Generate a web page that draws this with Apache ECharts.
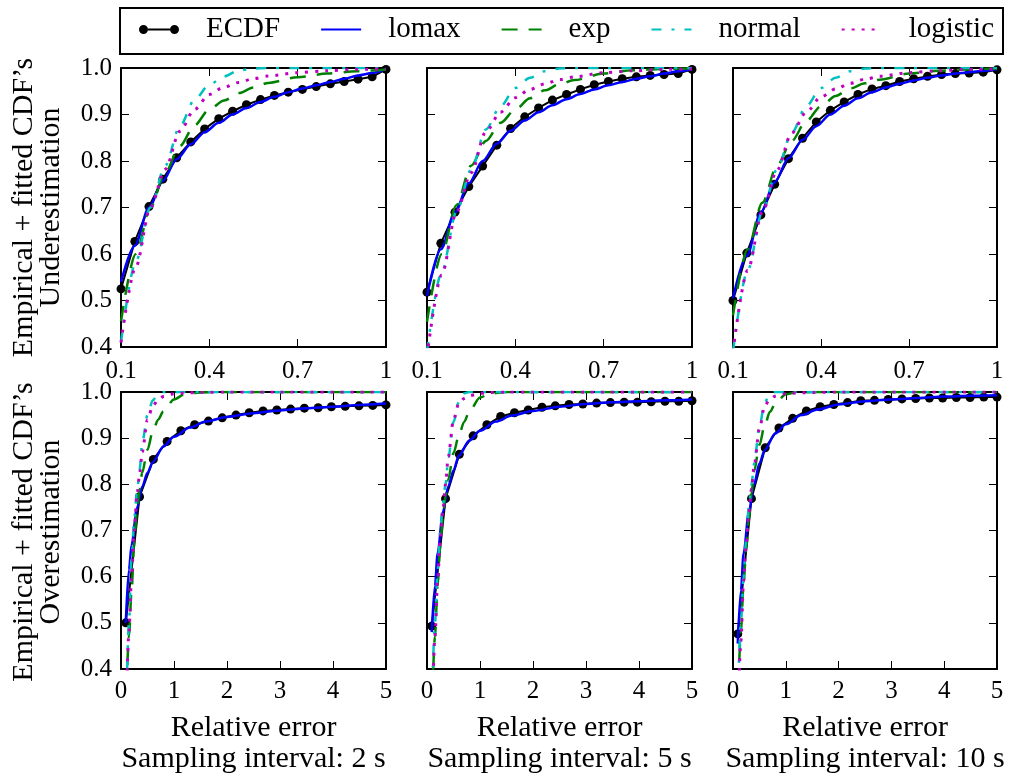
<!DOCTYPE html>
<html>
<head>
<meta charset="utf-8">
<script src="https://cdn.jsdelivr.net/npm/echarts@6/dist/echarts.min.js"></script>
<style>
html,body{margin:0;padding:0;background:#fff;}
#chart{width:1013px;height:776px;}
</style>
</head>
<body>
<div id="chart"></div>
<script>
// ---------- data ----------
const intervals = ['2 s', '5 s', '10 s'];
const seriesNames = ['ECDF', 'lomax', 'exp', 'normal', 'logistic'];
const yTicks = [0.4, 0.5, 0.6, 0.7, 0.8, 0.9, 1.0];
const underTicks = [0.1, 0.4, 0.7, 1.0];
const overTicks = [0, 1, 2, 3, 4, 5];

// Underestimation (top row)
const underX = [0.1, 0.147, 0.195, 0.242, 0.289, 0.337, 0.384, 0.432, 0.479, 0.526, 0.574, 0.621, 0.668, 0.716, 0.763, 0.811, 0.858, 0.905, 0.953, 1.0];
const underFitX = [0.1, 0.15, 0.2, 0.25, 0.3, 0.35, 0.4, 0.45, 0.5, 0.55, 0.6, 0.7, 0.8, 0.9, 1.0];

const ecdfUnder2  = [0.525, 0.627, 0.702, 0.761, 0.807, 0.841, 0.869, 0.891, 0.907, 0.921, 0.932, 0.941, 0.948, 0.954, 0.960, 0.966, 0.971, 0.976, 0.981, 0.997];
const ecdfUnder5  = [0.518, 0.623, 0.690, 0.745, 0.789, 0.834, 0.870, 0.895, 0.914, 0.931, 0.943, 0.954, 0.964, 0.971, 0.977, 0.981, 0.984, 0.986, 0.988, 0.997];
const ecdfUnder10 = [0.500, 0.602, 0.684, 0.750, 0.805, 0.849, 0.884, 0.909, 0.927, 0.943, 0.955, 0.962, 0.971, 0.977, 0.982, 0.986, 0.988, 0.989, 0.991, 0.996];

const lomaxUnder2  = [0.540, 0.618, 0.700, 0.757, 0.804, 0.836, 0.862, 0.882, 0.900, 0.914, 0.927, 0.938, 0.948, 0.956, 0.963, 0.970, 0.977, 0.984, 0.989, 0.998];
const lomaxUnder5  = [0.510, 0.610, 0.690, 0.752, 0.800, 0.837, 0.865, 0.887, 0.905, 0.920, 0.933, 0.944, 0.954, 0.963, 0.970, 0.977, 0.982, 0.988, 0.993, 0.998];
const lomaxUnder10 = [0.505, 0.596, 0.690, 0.754, 0.806, 0.845, 0.875, 0.900, 0.919, 0.935, 0.948, 0.958, 0.966, 0.973, 0.979, 0.984, 0.988, 0.991, 0.994, 0.998];

const expUnder2  = [0.455, 0.600, 0.700, 0.775, 0.832, 0.877, 0.911, 0.930, 0.946, 0.958, 0.968, 0.980, 0.988, 0.993, 0.997];
const expUnder5  = [0.454, 0.600, 0.705, 0.790, 0.843, 0.882, 0.911, 0.935, 0.952, 0.965, 0.974, 0.988, 0.995, 0.998, 0.999];
const expUnder10 = [0.468, 0.610, 0.710, 0.790, 0.843, 0.886, 0.918, 0.940, 0.956, 0.967, 0.975, 0.988, 0.994, 0.997, 0.999];

const normalUnder2  = [0.410, 0.583, 0.700, 0.790, 0.875, 0.932, 0.964, 0.982, 0.995, 0.999, 1.0, 1.0, 1.0, 1.0, 1.0];
const normalUnder5  = [0.390, 0.561, 0.690, 0.782, 0.868, 0.918, 0.957, 0.979, 0.993, 0.999, 1.0, 1.0, 1.0, 1.0, 1.0];
const normalUnder10 = [0.390, 0.565, 0.690, 0.782, 0.860, 0.918, 0.957, 0.979, 0.993, 0.999, 1.0, 1.0, 1.0, 1.0, 1.0];

const logisticUnder2  = [0.410, 0.572, 0.700, 0.782, 0.864, 0.911, 0.943, 0.959, 0.969, 0.977, 0.983, 0.990, 0.994, 0.997, 0.998];
const logisticUnder5  = [0.380, 0.555, 0.690, 0.775, 0.863, 0.905, 0.936, 0.954, 0.966, 0.975, 0.981, 0.990, 0.994, 0.997, 0.998];
const logisticUnder10 = [0.390, 0.565, 0.690, 0.780, 0.860, 0.905, 0.938, 0.955, 0.967, 0.976, 0.982, 0.990, 0.994, 0.997, 0.998];

// Overestimation (bottom row)
const overX = [0.09, 0.35, 0.61, 0.87, 1.13, 1.39, 1.65, 1.91, 2.17, 2.42, 2.68, 2.94, 3.2, 3.46, 3.72, 3.97, 4.23, 4.49, 4.75, 5.0];
const overLomaxX = [0.09, 0.15, 0.2, 0.3, 0.4, 0.5, 0.6, 0.8, 1.0, 1.3, 1.6, 2.0, 2.5, 3.0, 3.5, 4.0, 4.5, 5.0];
const overFitX = [0.1, 0.15, 0.2, 0.25, 0.3, 0.35, 0.4, 0.5, 0.6, 0.7, 0.8, 1.0, 1.2, 1.5, 2.0, 3.0, 5.0];

const ecdfOver2  = [0.500, 0.773, 0.854, 0.893, 0.916, 0.929, 0.937, 0.944, 0.950, 0.955, 0.959, 0.961, 0.963, 0.965, 0.966, 0.968, 0.969, 0.970, 0.971, 0.972];
const ecdfOver5  = [0.493, 0.769, 0.865, 0.905, 0.929, 0.947, 0.955, 0.961, 0.967, 0.970, 0.973, 0.974, 0.976, 0.977, 0.978, 0.978, 0.979, 0.980, 0.980, 0.981];
const ecdfOver10 = [0.476, 0.769, 0.879, 0.922, 0.943, 0.959, 0.968, 0.973, 0.977, 0.981, 0.982, 0.984, 0.985, 0.986, 0.987, 0.987, 0.988, 0.988, 0.989, 0.989];

const lomaxOver2  = [0.500, 0.615, 0.669, 0.748, 0.795, 0.825, 0.848, 0.882, 0.903, 0.923, 0.936, 0.946, 0.954, 0.960, 0.965, 0.968, 0.972, 0.975];
const lomaxOver5  = [0.480, 0.580, 0.650, 0.740, 0.795, 0.830, 0.862, 0.895, 0.916, 0.936, 0.949, 0.959, 0.968, 0.974, 0.978, 0.980, 0.982, 0.984];
const lomaxOver10 = [0.455, 0.570, 0.650, 0.740, 0.800, 0.845, 0.874, 0.910, 0.930, 0.950, 0.962, 0.973, 0.980, 0.984, 0.987, 0.990, 0.992, 0.993];

const expOver2  = [0.350, 0.470, 0.570, 0.675, 0.740, 0.790, 0.825, 0.875, 0.915, 0.940, 0.958, 0.984, 0.995, 0.999, 1.0, 1.0, 1.0];
const expOver5  = [0.340, 0.470, 0.580, 0.665, 0.730, 0.775, 0.810, 0.868, 0.905, 0.935, 0.958, 0.988, 0.997, 1.0, 1.0, 1.0, 1.0];
const expOver10 = [0.360, 0.480, 0.585, 0.660, 0.725, 0.780, 0.828, 0.885, 0.928, 0.957, 0.975, 0.995, 0.999, 1.0, 1.0, 1.0, 1.0];

const normalOver2  = [0.330, 0.500, 0.640, 0.730, 0.780, 0.830, 0.890, 0.950, 0.982, 0.997, 1.0, 1.0, 1.0, 1.0, 1.0, 1.0, 1.0];
const normalOver5  = [0.360, 0.500, 0.610, 0.700, 0.755, 0.800, 0.855, 0.935, 0.978, 0.997, 1.0, 1.0, 1.0, 1.0, 1.0, 1.0, 1.0];
const normalOver10 = [0.370, 0.500, 0.600, 0.680, 0.750, 0.800, 0.845, 0.925, 0.977, 0.997, 1.0, 1.0, 1.0, 1.0, 1.0, 1.0, 1.0];

const logisticOver2  = [0.330, 0.480, 0.600, 0.700, 0.775, 0.820, 0.870, 0.940, 0.970, 0.983, 0.990, 0.996, 0.998, 0.999, 1.0, 1.0, 1.0];
const logisticOver5  = [0.320, 0.470, 0.590, 0.680, 0.745, 0.800, 0.860, 0.940, 0.975, 0.986, 0.992, 0.997, 0.999, 1.0, 1.0, 1.0, 1.0];
const logisticOver10 = [0.330, 0.460, 0.590, 0.670, 0.740, 0.790, 0.840, 0.920, 0.970, 0.985, 0.991, 0.996, 0.998, 0.999, 1.0, 1.0, 1.0];

// ---------- build ----------
const FONT = '"Liberation Serif", "DejaVu Serif", serif';
const panels = [
  {ex: underX, ecdf: ecdfUnder2,  lx: underX, lomax: lomaxUnder2,  fx: underFitX, exp: expUnder2,  normal: normalUnder2,  logistic: logisticUnder2},
  {ex: underX, ecdf: ecdfUnder5,  lx: underX, lomax: lomaxUnder5,  fx: underFitX, exp: expUnder5,  normal: normalUnder5,  logistic: logisticUnder5},
  {ex: underX, ecdf: ecdfUnder10, lx: underX, lomax: lomaxUnder10, fx: underFitX, exp: expUnder10, normal: normalUnder10, logistic: logisticUnder10},
  {ex: overX, ecdf: ecdfOver2,  lx: overLomaxX, lomax: lomaxOver2,  fx: overFitX, exp: expOver2,  normal: normalOver2,  logistic: logisticOver2},
  {ex: overX, ecdf: ecdfOver5,  lx: overLomaxX, lomax: lomaxOver5,  fx: overFitX, exp: expOver5,  normal: normalOver5,  logistic: logisticOver5},
  {ex: overX, ecdf: ecdfOver10, lx: overLomaxX, lomax: lomaxOver10, fx: overFitX, exp: expOver10, normal: normalOver10, logistic: logisticOver10}
];

const gridLefts = [121, 427, 733];
const gridWidths = [265, 265, 264];
const grids = [], xAxes = [], yAxes = [], series = [];
const zip = (xs, ys) => xs.map((x, i) => [x, ys[i]]);

panels.forEach((p, i) => {
  const row = i < 3 ? 0 : 1, col = i % 3;
  grids.push({left: gridLefts[col], width: gridWidths[col], top: row === 0 ? 68 : 392, height: row === 0 ? 279 : 281});
  const xmin = row === 0 ? 0.1 : 0, xmax = row === 0 ? 1 : 5;
  const xt = row === 0 ? underTicks : overTicks;
  const lineSt = {show: true, onZero: false, lineStyle: {color: '#000', width: 2}};
  const tickSt = {show: true, inside: true, length: 8, customValues: xt, lineStyle: {color: '#000', width: 1}};
  xAxes.push({
    type: 'value', gridIndex: i, position: 'bottom', min: xmin, max: xmax,
    axisLine: lineSt, axisTick: tickSt, splitLine: {show: false},
    axisLabel: {show: true, customValues: xt, formatter: v => String(v), margin: row === 0 ? 12 : 10,
      fontFamily: FONT, fontSize: 25, color: '#000'},
    name: row === 1 ? 'Relative error\nSampling interval: ' + intervals[col] : '',
    nameLocation: 'middle', nameGap: 44,
    nameTextStyle: {fontFamily: FONT, fontSize: 30, lineHeight: 31, color: '#000'}
  });
  xAxes.push({
    type: 'value', gridIndex: i, position: 'top', min: xmin, max: xmax,
    axisLine: lineSt, axisTick: tickSt, splitLine: {show: false}, axisLabel: {show: false}
  });
  const yTickSt = {show: true, inside: true, length: 8, customValues: yTicks, lineStyle: {color: '#000', width: 1}};
  yAxes.push({
    type: 'value', gridIndex: i, position: 'left', min: 0.4, max: 1.0,
    axisLine: lineSt, axisTick: yTickSt, splitLine: {show: false},
    axisLabel: {show: col === 0, customValues: yTicks, formatter: v => v.toFixed(1), margin: 9,
      fontFamily: FONT, fontSize: 25, color: '#000'}
  });
  yAxes.push({
    type: 'value', gridIndex: i, position: 'right', min: 0.4, max: 1.0,
    axisLine: lineSt, axisTick: yTickSt, splitLine: {show: false}, axisLabel: {show: false}
  });
  const ax = {xAxisIndex: 2 * i, yAxisIndex: 2 * i};
  series.push(Object.assign({
    type: 'line', name: 'ECDF', data: zip(p.ex, p.ecdf), symbol: 'circle', symbolSize: 9,
    showAllSymbol: true, itemStyle: {color: '#000'}, lineStyle: {color: '#000', width: 2}, z: 2
  }, ax));
  series.push(Object.assign({
    type: 'line', name: 'lomax', data: zip(p.lx, p.lomax), symbol: 'none', smooth: 0.3, smoothMonotone: 'x',
    itemStyle: {color: '#0000ff'}, lineStyle: {color: '#0000ff', width: 2.5}, z: 3
  }, ax));
  series.push(Object.assign({
    type: 'line', name: 'exp', data: zip(p.fx, p.exp), symbol: 'none', smooth: 0.3, smoothMonotone: 'x',
    itemStyle: {color: '#008000'}, lineStyle: {color: '#008000', width: 2.5, type: [16, 11]}, z: 4
  }, ax));
  series.push(Object.assign({
    type: 'line', name: 'normal', data: zip(p.fx, p.normal), symbol: 'none', smooth: 0.3, smoothMonotone: 'x',
    itemStyle: {color: '#00bfbf'}, lineStyle: {color: '#00bfbf', width: 2.5, type: [10, 10, 3, 10]}, z: 5
  }, ax));
  series.push(Object.assign({
    type: 'line', name: 'logistic', data: zip(p.fx, p.logistic), symbol: 'none', smooth: 0.3, smoothMonotone: 'x',
    itemStyle: {color: '#bf00bf'}, lineStyle: {color: '#bf00bf', width: 3, type: [3, 7]}, z: 6
  }, ax));
});

// legend icon for ECDF: dot, line, dot (non-overlapping sub-paths)
const ecdfIcon = 'path://M0,4.5 A4.5,4.5 0 1,0 9,4.5 A4.5,4.5 0 1,0 0,4.5 Z M9,3.5 L31,3.5 L31,5.5 L9,5.5 Z M31,4.5 A4.5,4.5 0 1,0 40,4.5 A4.5,4.5 0 1,0 31,4.5 Z';
const noSymbol = {opacity: 0};

const option = {
  animation: false,
  backgroundColor: '#fff',
  grid: grids,
  xAxis: xAxes,
  yAxis: yAxes,
  series: series,
  legend: {
    left: 139, top: 15, padding: 0, itemWidth: 40, itemHeight: 9, itemGap: 40,
    selectedMode: false,
    textStyle: {fontFamily: FONT, fontSize: 29, color: '#000', padding: [0, 0, 0, 22]},
    data: [
      {name: 'ECDF', icon: ecdfIcon, itemStyle: {color: '#000', borderWidth: 0, opacity: 1}},
      {name: 'lomax', itemStyle: noSymbol},
      {name: 'exp', itemStyle: noSymbol},
      {name: 'normal', itemStyle: noSymbol},
      {name: 'logistic', itemStyle: noSymbol}
    ]
  },
  graphic: [
    {type: 'rect', shape: {x: 120, y: 8, width: 883, height: 46}, style: {fill: 'none', stroke: '#000', lineWidth: 2}, silent: true},
    {type: 'text', x: 37.5, y: 207.5, rotation: Math.PI / 2,
      style: {text: 'Empirical + fitted CDF\u2019s\nUnderestimation', fontFamily: FONT, fontSize: 30, lineHeight: 27,
        align: 'center', verticalAlign: 'middle', fill: '#000'}},
    {type: 'text', x: 37.5, y: 532, rotation: Math.PI / 2,
      style: {text: 'Empirical + fitted CDF\u2019s\nOverestimation', fontFamily: FONT, fontSize: 30, lineHeight: 27,
        align: 'center', verticalAlign: 'middle', fill: '#000'}}
  ]
};

const chart = echarts.init(document.getElementById('chart'), null, {renderer: 'canvas'});
chart.setOption(option);
</script>
</body>
</html>
